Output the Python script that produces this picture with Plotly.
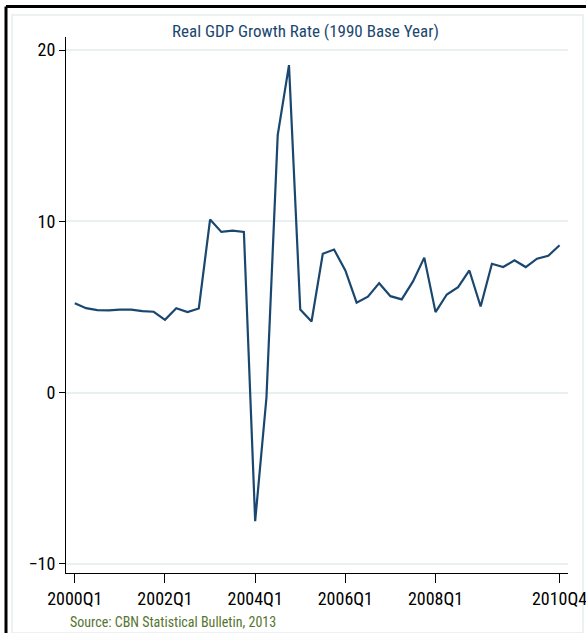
import plotly.graph_objects as go

# Quarterly real GDP growth rate, 2000Q1 - 2010Q4 (percent)
quarters = [f"{y}Q{q}" for y in range(2000, 2011) for q in range(1, 5)]
growth = [
    5.22, 4.93, 4.82, 4.80, 4.84, 4.84, 4.76, 4.72,
    4.25, 4.93, 4.70, 4.91, 10.10, 9.38, 9.46, 9.38,
    -7.50, -0.30, 15.03, 19.12, 4.85, 4.15, 8.11, 8.35,
    7.13, 5.25, 5.60, 6.39, 5.63, 5.44, 6.49, 7.88,
    4.70, 5.73, 6.16, 7.13, 5.03, 7.52, 7.33, 7.72,
    7.33, 7.82, 7.99, 8.60,
]
x_tick_labels = ["2000Q1", "2002Q1", "2004Q1", "2006Q1", "2008Q1", "2010Q4"]
y_tick_values = [-10, 0, 10, 20]

idx = list(range(len(quarters)))
tick_idx = [quarters.index(t) for t in x_tick_labels]

NAVY = "#1a476f"
GRID = "#e9f0f2"
FONT = "Liberation Sans Narrow, Arial Narrow, Roboto Condensed, Liberation Sans, sans-serif"

fig = go.Figure()
fig.add_trace(go.Scatter(
    x=idx, y=growth, mode="lines",
    line=dict(color=NAVY, width=2.2),
    hoverinfo="skip", showlegend=False,
))

fig.update_layout(
    width=586, height=633,
    margin=dict(l=66, r=18, t=37, b=60),
    paper_bgcolor="white", plot_bgcolor="white",
    font=dict(family=FONT, size=18, color="black"),
    xaxis=dict(
        range=[-0.78, 43.75], tickmode="array",
        tickvals=tick_idx, ticktext=x_tick_labels,
        showgrid=False, zeroline=False,
        showline=True, linecolor="black", linewidth=1,
        ticks="outside", ticklen=9, tickcolor="black", tickwidth=1,
        tickfont=dict(size=18), ticklabeloverflow="allow", automargin=False,
    ),
    yaxis=dict(
        range=[-10.53, 20.76], tickmode="array",
        tickvals=y_tick_values,
        showgrid=True, gridcolor=GRID, gridwidth=1.5, zeroline=False,
        showline=True, linecolor="black", linewidth=1,
        ticks="outside", ticklen=6, tickcolor="black", tickwidth=1,
        tickfont=dict(size=18), automargin=False,
    ),
)

# Light inner frame of the graph region
fig.add_shape(type="rect", xref="paper", yref="paper",
              x0=-54 / 502, x1=517 / 502, y0=-60 / 536, y1=(573 - 15) / 536,
              line=dict(color="#e6edef", width=1.5), layer="below")
# Heavy black border on the left and top
fig.add_shape(type="line", xref="paper", yref="paper",
              x0=-60 / 502, x1=-60 / 502, y0=-60 / 536, y1=(573 - 6.5) / 536,
              line=dict(color="black", width=3))
fig.add_shape(type="line", xref="paper", yref="paper",
              x0=-60 / 502, x1=(586 - 66) / 502, y0=(573 - 6.5) / 536, y1=(573 - 6.5) / 536,
              line=dict(color="black", width=3))

fig.add_annotation(
    text="Real GDP Growth Rate (1990 Base Year)",
    xref="paper", yref="paper", x=(305 - 66) / 502, y=(573 - 31) / 536,
    xanchor="center", yanchor="middle", showarrow=False,
    font=dict(family=FONT, size=17, color=NAVY),
)
fig.add_annotation(
    text="Source: CBN Statistical Bulletin, 2013",
    xref="paper", yref="paper", x=(68 - 66) / 502, y=(573 - 622) / 536,
    xanchor="left", yanchor="middle", showarrow=False,
    font=dict(family=FONT, size=14, color="#55752f"),
)

fig.write_html("out.html")
